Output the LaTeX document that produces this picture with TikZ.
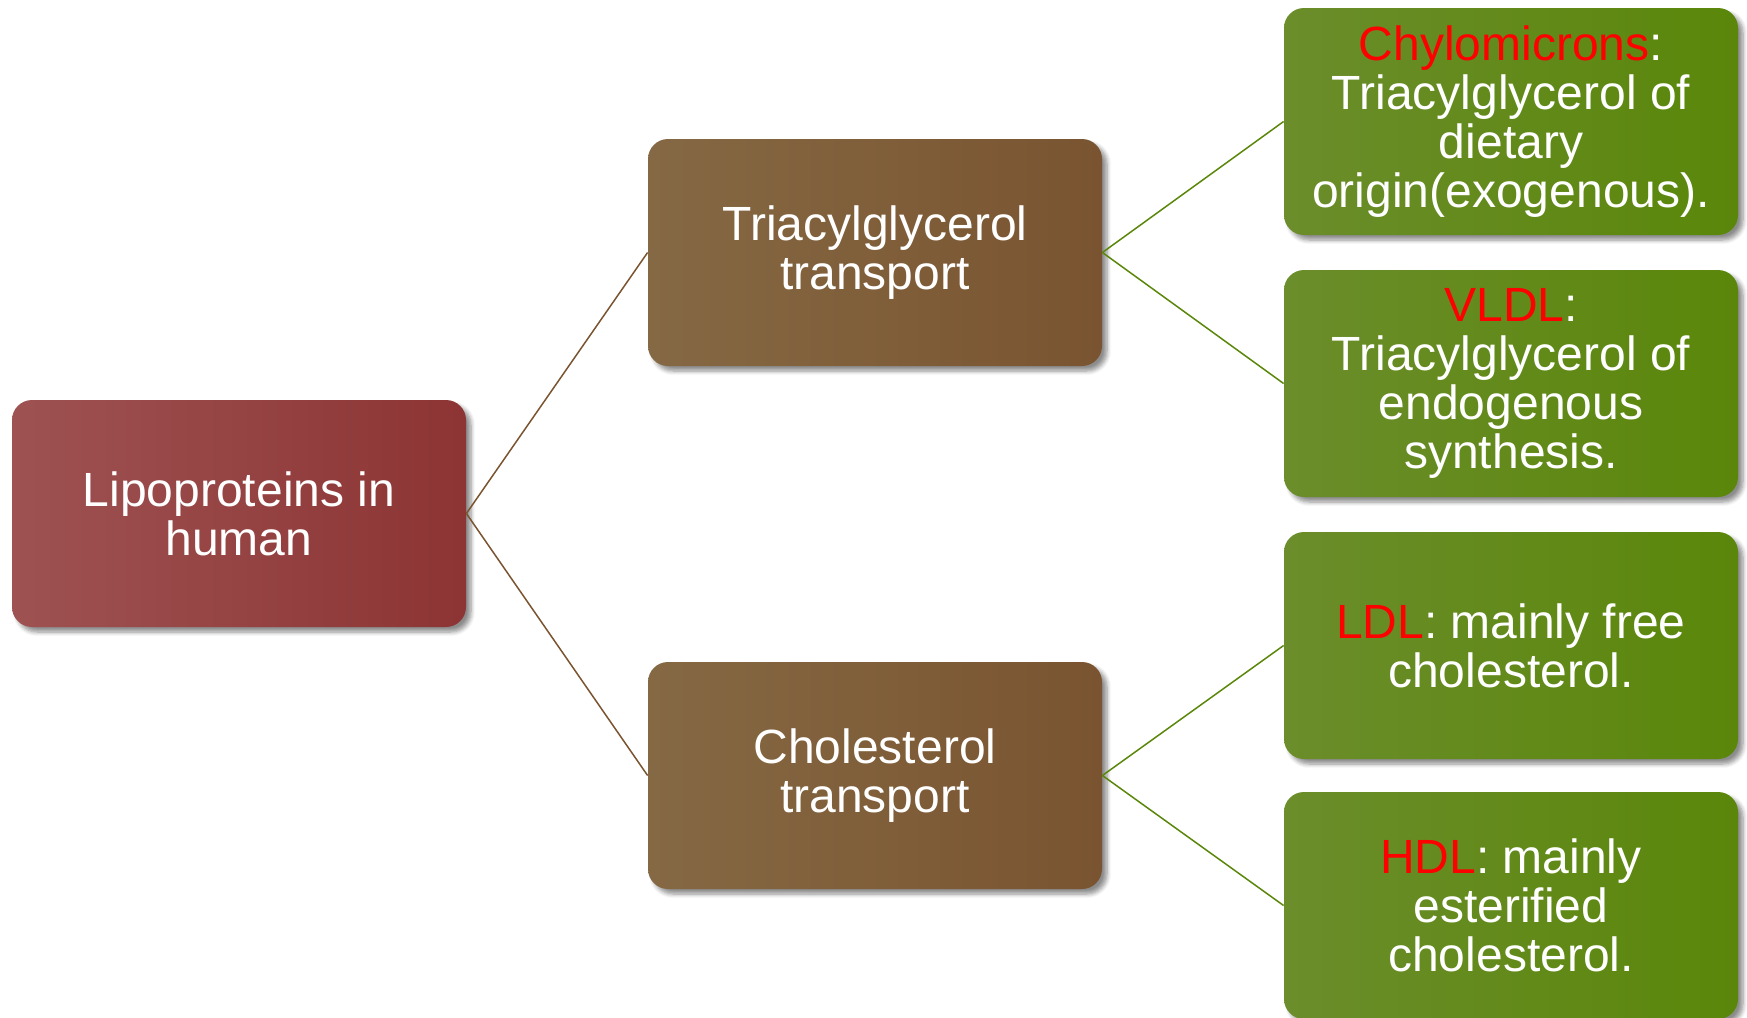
\documentclass[tikz,border=0pt]{standalone}
\usepackage{fontspec}
\setmainfont{Liberation Sans}
\usetikzlibrary{shadows.blur}
\definecolor{redA}{HTML}{9E5252}
\definecolor{redB}{HTML}{A33F3F}
\definecolor{redC}{HTML}{8D3434}
\definecolor{brownA}{HTML}{856944}
\definecolor{brownB}{HTML}{8A6139}
\definecolor{brownC}{HTML}{7A5430}
\definecolor{greenA}{HTML}{6B8D2B}
\definecolor{greenB}{HTML}{67961A}
\definecolor{greenC}{HTML}{5A870A}
\definecolor{hl}{HTML}{FF0000}
\tikzset{
  box/.style={rounded corners=10pt, minimum width=227pt, minimum height=113.5pt,
    inner sep=0pt, align=center, text=white, font=\fontsize{24}{24.5}\selectfont,
    blur shadow={shadow xshift=2.5pt, shadow yshift=-2.5pt, shadow blur steps=6, shadow opacity=45}},
  rootbox/.style={box, left color=redA, middle color=redB, right color=redC},
  midbox/.style={box, left color=brownA, middle color=brownB, right color=brownC},
  leafbox/.style={box, left color=greenA, middle color=greenB, right color=greenC},
  brownline/.style={draw=brownC, line width=0.75pt},
  greenline/.style={draw=greenC, line width=0.75pt}
}
\begin{document}
\begin{tikzpicture}[x=0.5pt, y=-0.5pt]
\useasboundingbox (0,0) rectangle (1747,1018); %
\node[rootbox] (lipo) at (239,513.5) {Lipoproteins in\\human};
\node[midbox] (tgtr) at (875,252.5) {Triacylglycerol\\transport};
\node[midbox] (choltr) at (875,775.5) {Cholesterol\\transport};
\node[leafbox] (chylo) at (1511,121.5) {\textcolor{hl}{Chylomicrons}:\\Triacylglycerol of\\dietary\\origin(exogenous).};
\node[leafbox] (vldl) at (1511,383.5) {\textcolor{hl}{VLDL}:\\Triacylglycerol of\\endogenous\\synthesis.};
\node[leafbox] (ldl) at (1511,645.5) {\textcolor{hl}{LDL}: mainly free\\cholesterol.};
\node[leafbox] (hdl) at (1511,905.5) {\textcolor{hl}{HDL}: mainly\\esterified\\cholesterol.};
\foreach \a/\b in {lipo/tgtr, lipo/choltr}
{
	\draw[brownline] (\a.east) -- (\b.west); %
}
\foreach \a/\b in {tgtr/chylo, tgtr/vldl, choltr/ldl, choltr/hdl}
{
	\draw[greenline] (\a.east) -- (\b.west); %
}
\end{tikzpicture}
\end{document}
